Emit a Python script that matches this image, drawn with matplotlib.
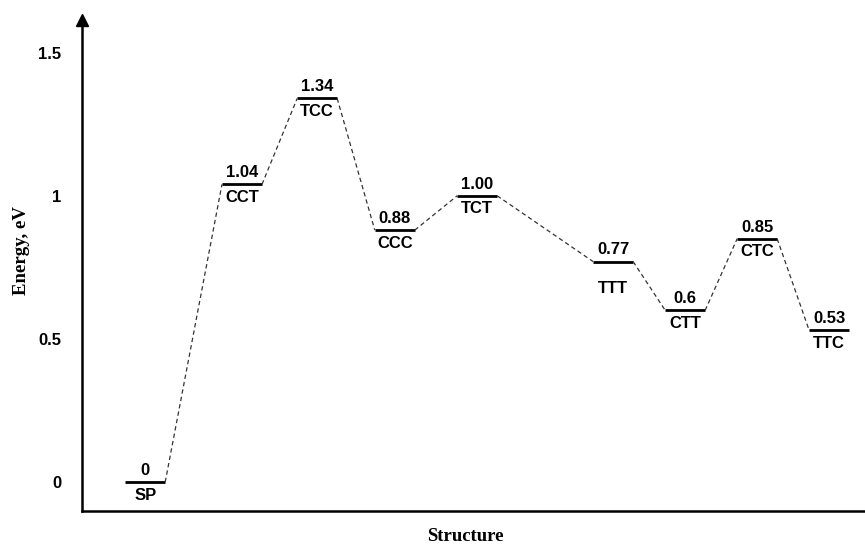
import numpy as np
import matplotlib
matplotlib.use("Agg")
import matplotlib.pyplot as plt

# energy levels of the conformers
structures = ['SP', 'CCT', 'TCC', 'CCC', 'TCT', 'TTT', 'CTT', 'CTC', 'TTC']
energies = [0.0, 1.04, 1.34, 0.88, 1.00, 0.77, 0.6, 0.85, 0.53]
value_text = ['0', '1.04', '1.34', '0.88', '1.00', '0.77', '0.6', '0.85', '0.53']
xpos = [0.79, 2.0, 2.94, 3.91, 4.94, 6.64, 7.54, 8.44, 9.34]
yticks = [0, 0.5, 1, 1.5]
ytick_labels = ['0', '0.5', '1', '1.5']

half = 0.25
sans = 'Liberation Sans'
serif = 'Liberation Serif'

fig = plt.figure(figsize=(8.65, 5.44), dpi=100)
ax = fig.add_axes([0.0948, 0.0607, 0.904, 0.902])

# horizontal levels
for x, e in zip(xpos, energies):
    ax.plot([x - half, x + half], [e, e], color='black', lw=2, solid_capstyle='butt')

# dashed connectors between neighbouring levels
for i in range(len(xpos) - 1):
    ax.plot([xpos[i] + half, xpos[i + 1] - half], [energies[i], energies[i + 1]],
            color='#333333', lw=0.9, ls=(0, (3.5, 2.5)))

# value above, name below each level
for k, (x, e) in enumerate(zip(xpos, energies)):
    ax.annotate(value_text[k], (x, e), xytext=(0, 3), textcoords='offset points',
                ha='center', va='bottom', fontsize=12, fontweight='bold', family=sans)
    below = -14 if structures[k] == 'TTT' else -4
    ax.annotate(structures[k], (x, e), xytext=(0, below), textcoords='offset points',
                ha='center', va='top', fontsize=12, fontweight='bold', family=sans)

ax.set_xlim(0, 9.775)
ax.set_ylim(-0.101, 1.613)
ax.set_xticks([])
ax.set_yticks(yticks)
ax.set_yticklabels(ytick_labels, fontsize=12, fontweight='bold', family=sans)
ax.tick_params(axis='y', length=0, pad=15)

for side in ['top', 'right']:
    ax.spines[side].set_visible(False)
ax.spines['left'].set_linewidth(1.8)
ax.spines['bottom'].set_linewidth(1.8)

# arrow head on the energy axis
ax.plot(0, 1.0, marker='^', color='black', markersize=9, transform=ax.transAxes, clip_on=False)

ax.set_xlabel('Structure', fontsize=13.5, fontweight='bold', family=serif)
ax.set_ylabel('Energy, eV', fontsize=13.5, fontweight='bold', family=serif)
ax.xaxis.set_label_coords(0.49, -0.051)
ax.yaxis.set_label_coords(-0.078, 0.53)
ax.xaxis.label.set_va('center')
ax.yaxis.label.set_va('center')

fig.savefig('out.png', dpi=100)
